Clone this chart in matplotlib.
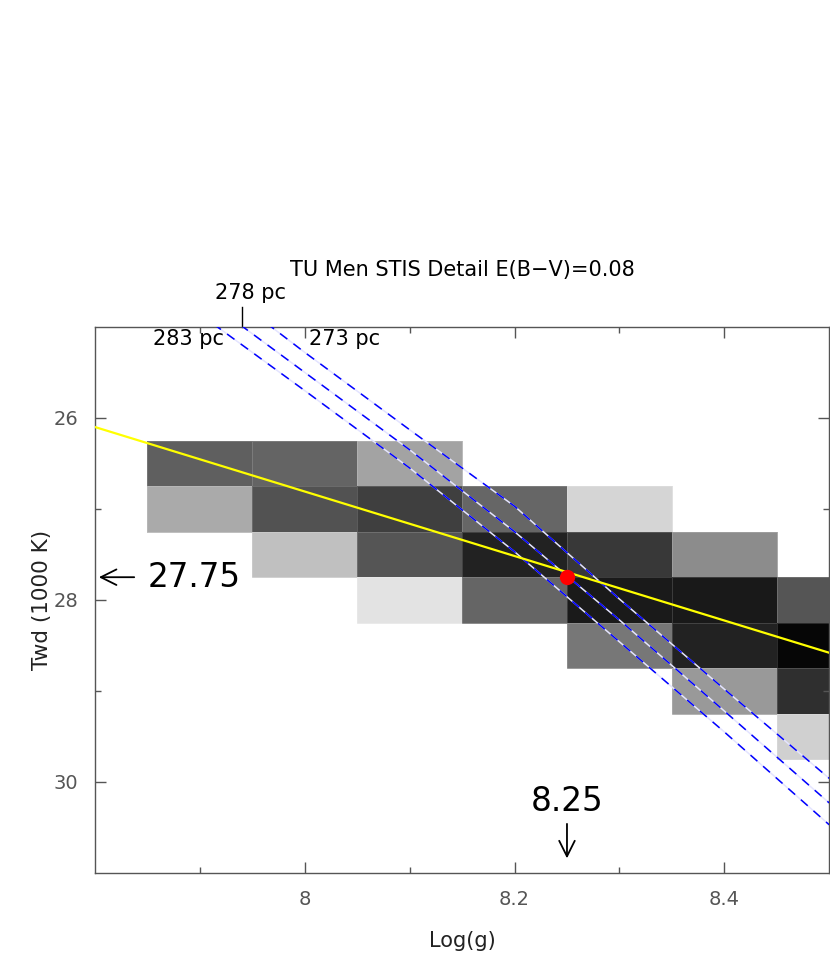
import numpy as np
import matplotlib
import matplotlib.pyplot as plt

matplotlib.use('Agg')

nan = np.nan

# grid of model fits: log(g) bin centres, Twd bin centres (1000 K), probability shading
logg_bins = [7.9, 8.0, 8.1, 8.2, 8.3, 8.4, 8.5]
twd_bins = [26.5, 27.0, 27.5, 28.0, 28.5, 29.0, 29.5]
prob = [
    [0.627, 0.608, 0.361, nan, nan, nan, nan],
    [0.333, 0.678, 0.753, 0.600, 0.165, nan, nan],
    [nan, 0.247, 0.667, 0.867, 0.780, 0.451, nan],
    [nan, nan, 0.110, 0.604, 0.898, 0.902, 0.667],
    [nan, nan, nan, nan, 0.533, 0.867, 0.976],
    [nan, nan, nan, nan, nan, 0.400, 0.816],
    [nan, nan, nan, nan, nan, nan, 0.184],
]

# distance curves
curve_logg = [7.9, 8.0, 8.1, 8.2, 8.3, 8.4, 8.5]
twd_273pc = [24.40, 25.28, 26.13, 26.97, 27.99, 28.98, 29.96]
twd_278pc = [24.65, 25.50, 26.35, 27.25, 28.22, 29.22, 30.23]
twd_283pc = [24.86, 25.70, 26.55, 27.47, 28.46, 29.45, 30.47]

# temperature / gravity relation
rel_logg = [7.8, 8.5]
rel_twd = [26.1, 28.58]

best_logg = 8.25
best_twd = 27.75

fig = plt.figure(figsize=(8.3, 9.69), dpi=100)
ax = fig.add_axes([0.1145, 0.0991, 0.8845, 0.5635])

# cell edges
xe = np.append(np.array(logg_bins) - 0.05, logg_bins[-1] + 0.05)
ye = np.append(np.array(twd_bins) - 0.25, twd_bins[-1] + 0.25)
ax.pcolormesh(xe, ye, np.ma.masked_invalid(np.array(prob)), cmap='gray_r',
              vmin=0, vmax=1, edgecolors=(1, 1, 1, 0.15), linewidth=0.6, zorder=1)

for twd in (twd_273pc, twd_278pc, twd_283pc):
    ax.plot(curve_logg, twd, color='#e4e4ff', lw=1.1, zorder=2)
    ax.plot(curve_logg, twd, color='#0000ff', lw=1.1, dashes=(6, 5), zorder=3)

ax.plot(rel_logg, rel_twd, color='#ffff00', lw=1.6, zorder=4)
ax.plot([best_logg], [best_twd], 'o', color='#ff0000', ms=11, mec='none', zorder=5)

ax.set_xlim(7.8, 8.5)
ax.set_ylim(31, 25)

ax.set_xticks([8.0, 8.2, 8.4])
ax.set_xticklabels(['8', '8.2', '8.4'])
ax.set_xticks([7.9, 8.1, 8.3], minor=True)
ax.set_yticks([26, 28, 30])
ax.set_yticks([27, 29], minor=True)

for s in ax.spines.values():
    s.set_color('#555555')
    s.set_linewidth(1.0)
ax.tick_params(which='both', direction='in', top=True, right=True,
               colors='#555555', width=1.0, labelsize=14, labelcolor='#555555')
ax.tick_params(which='major', length=8)
ax.tick_params(which='minor', length=4.5)
ax.tick_params(axis='x', pad=12)
ax.tick_params(axis='y', pad=12)

ax.set_xlabel('Log(g)', fontsize=15, labelpad=16, color='#222222')
ax.set_ylabel('Twd (1000 K)', fontsize=15.5, color='#222222')
ax.yaxis.set_label_coords(-0.058, 0.5)

ax.text(0.5, 1.104, 'TU Men STIS Detail E(B\u2212V)=0.08', transform=ax.transAxes,
        ha='center', va='center', fontsize=15)

# distance labels
ax.plot([7.94, 7.94], [25.0, 24.78], color='black', lw=1.0, clip_on=False)
ax.text(7.948, 24.63, '278 pc', ha='center', va='center', fontsize=15)
ax.text(7.889, 25.13, '283 pc', ha='center', va='center', fontsize=15)
ax.text(8.038, 25.13, '273 pc', ha='center', va='center', fontsize=15)

# best-fit markers
ax.annotate('', xy=(7.801, best_twd), xytext=(7.84, best_twd),
            arrowprops=dict(arrowstyle='->', color='black', lw=1.3,
                            mutation_scale=28), annotation_clip=False)
ax.text(7.85, best_twd, '27.75', ha='left', va='center', fontsize=23.5)
ax.annotate('', xy=(best_logg, 30.87), xytext=(best_logg, 30.43),
            arrowprops=dict(arrowstyle='->', color='black', lw=1.3,
                            mutation_scale=28))
ax.text(best_logg, 30.21, '8.25', ha='center', va='center', fontsize=23.5)

plt.savefig('out.png', dpi=100)
plt.close()
